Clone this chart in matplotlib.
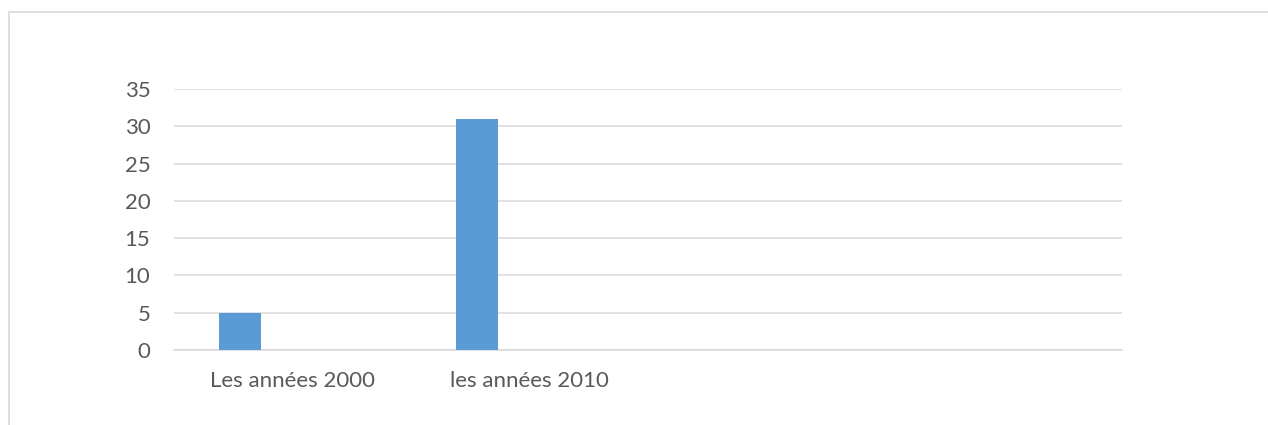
import matplotlib
matplotlib.use('Agg')

import matplotlib.pyplot as plt
import numpy as np
from matplotlib.patches import Rectangle

# data
categories = ["Les années 2000", "les années 2010", "", ""]
series_1 = [5, 31, 0, 0]
series_2 = [0, 0, 0, 0]
series_3 = [0, 0, 0, 0]
y_ticks = [0, 5, 10, 15, 20, 25, 30, 35]

plt.rcParams['font.family'] = ['Lato', 'DejaVu Sans']

W, H = 1268, 425
fig = plt.figure(figsize=(W / 100, H / 100), dpi=100)
fig.patch.set_facecolor('white')

# chart border (cropped at right/bottom)
fig.patches.append(Rectangle((8.5 / W, -0.1), 1.2, 1 - 11.5 / H + 0.1,
                             transform=fig.transFigure, fill=False,
                             edgecolor='#d9d9d9', linewidth=1.2))

ax = fig.add_axes([174 / W, (H - 350) / H, (1122 - 174) / W, (350 - 89) / H])

# excel clustered column: gap 219%, overlap -27%
n = 3
gap, overlap = 2.19, -0.27
w = 1 / (n + (n - 1) * (-overlap) + gap)
step = w * (1 - overlap)
x = np.arange(len(categories))
first = -0.5 + gap * w / 2 + w / 2
for i, vals in enumerate([series_1, series_2, series_3]):
    ax.bar(x + first + i * step, vals, width=w, color='#5b9bd5', linewidth=0, zorder=3)

ax.set_xlim(-0.5, len(categories) - 0.5)
ax.set_ylim(0, 35)
ax.set_yticks(y_ticks)
ax.set_xticks(x)
ax.set_xticklabels(categories)

ax.grid(axis='y', color='#d9d9d9', linewidth=1.1, zorder=0)
for s in ['top', 'right', 'left']:
    ax.spines[s].set_visible(False)
ax.spines['bottom'].set_color('#d9d9d9')
ax.spines['bottom'].set_linewidth(1.1)

ax.tick_params(axis='both', length=0, labelsize=16, labelcolor='#595959')
ax.tick_params(axis='y', pad=17)
ax.tick_params(axis='x', pad=15)

fig.savefig('out.png', dpi=100)
